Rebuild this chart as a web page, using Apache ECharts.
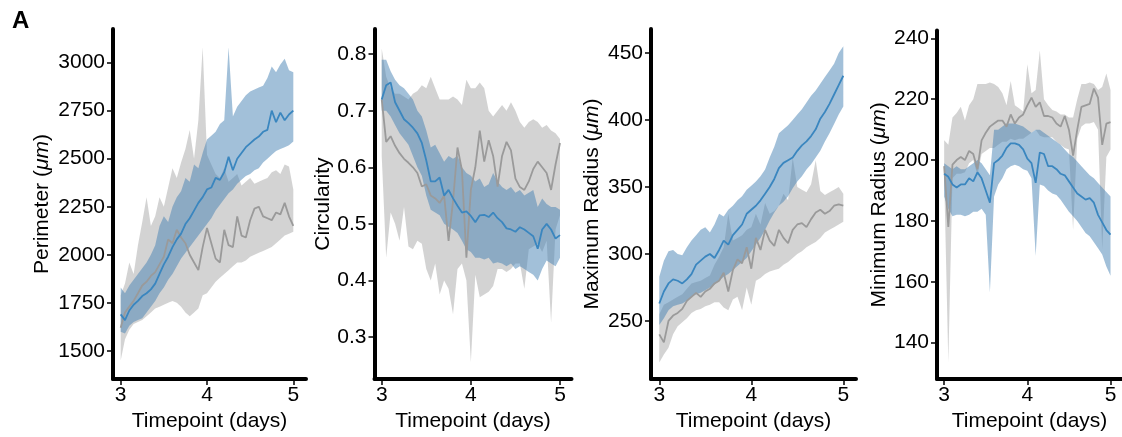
<!DOCTYPE html>
<html><head><meta charset="utf-8">
<script src="https://cdn.jsdelivr.net/npm/echarts@6/dist/echarts.min.js"></script>
<style>html,body{margin:0;padding:0;background:#fff}#c{width:1122px;height:437px}</style>
</head><body><div id="c"></div>
<script>
// Timepoints (days)
const T = [3.00,3.05,3.10,3.15,3.20,3.25,3.30,3.35,3.40,3.45,3.50,3.55,3.60,3.65,3.70,3.75,3.80,3.85,3.90,3.95,
           4.00,4.05,4.10,4.15,4.20,4.25,4.30,4.35,4.40,4.45,4.50,4.55,4.60,4.65,4.70,4.75,4.80,4.85,4.90,4.95,5.00];
const xTicks = [3, 4, 5];

// Perimeter (um)
const perimBlueMean = [1690,1660,1710,1740,1760,1785,1800,1820,1850,1900,1950,1990,2040,2080,2110,2160,2190,2230,2270,2300,
  2340,2350,2400,2390,2430,2510,2440,2500,2530,2560,2580,2600,2615,2640,2650,2750,2690,2740,2700,2730,2750];
const perimBlueLow = [1600,1590,1630,1650,1660,1670,1700,1730,1760,1800,1830,1870,1900,1940,1980,2010,2040,2070,2100,2130,
  2160,2190,2230,2260,2290,2320,2340,2370,2390,2410,2420,2440,2450,2480,2500,2520,2540,2550,2560,2570,2590];
const perimBlueHigh = [1830,1800,1840,1870,1900,1930,1960,2000,2050,2150,2200,2170,2250,2300,2330,2400,2380,2470,2450,2530,
  2600,2620,2640,2680,2700,3080,2720,2770,2800,2830,2850,2860,2870,2880,2920,2980,2950,2990,3020,2960,2950];
const perimGreyMean = [1620,1700,1730,1760,1800,1840,1860,1890,1910,1950,1990,2080,2060,2130,2090,2060,2000,1960,1920,2040,
  2140,2060,1980,1960,2130,2050,2040,2200,2100,2090,2180,2240,2250,2200,2190,2180,2220,2210,2270,2200,2150];
const perimGreyLow = [1450,1560,1610,1640,1650,1660,1680,1700,1720,1730,1740,1750,1760,1750,1730,1700,1680,1700,1720,1790,
  1800,1830,1860,1880,1900,1920,1940,1960,1960,1970,1990,2000,2010,2020,2030,2040,2060,2080,2100,2110,2120];
const perimGreyHigh = [1790,1850,1960,1900,2050,2170,2300,2150,2200,2300,2250,2350,2450,2400,2480,2550,2650,2500,2700,3080,
  2520,2470,2420,2400,2450,2380,2400,2420,2360,2380,2400,2370,2380,2390,2400,2430,2440,2420,2470,2460,2340];
const perimTicks = [1500,1750,2000,2250,2500,2750,3000];

// Circularity
const circBlueMean = [0.72,0.745,0.75,0.715,0.70,0.685,0.678,0.67,0.66,0.643,0.612,0.575,0.575,0.582,0.55,0.56,0.545,0.532,0.52,0.522,
  0.514,0.503,0.515,0.516,0.512,0.52,0.51,0.503,0.492,0.49,0.486,0.494,0.49,0.484,0.478,0.456,0.49,0.5,0.49,0.474,0.48];
const circBlueLow = [0.70,0.70,0.69,0.675,0.66,0.65,0.64,0.62,0.60,0.585,0.55,0.525,0.52,0.515,0.50,0.495,0.49,0.484,0.47,0.455,
  0.45,0.44,0.44,0.437,0.44,0.43,0.432,0.43,0.425,0.43,0.42,0.425,0.42,0.415,0.41,0.40,0.42,0.435,0.43,0.425,0.44];
const circBlueHigh = [0.79,0.79,0.77,0.755,0.745,0.74,0.73,0.72,0.70,0.69,0.665,0.635,0.64,0.625,0.61,0.62,0.615,0.62,0.60,0.59,
  0.585,0.575,0.58,0.565,0.57,0.59,0.575,0.565,0.56,0.565,0.555,0.56,0.55,0.555,0.56,0.53,0.545,0.535,0.53,0.53,0.525];
const circGreyMean = [0.72,0.645,0.655,0.638,0.625,0.615,0.608,0.60,0.59,0.566,0.57,0.55,0.545,0.537,0.55,0.47,0.54,0.635,0.595,0.44,
  0.56,0.60,0.665,0.61,0.648,0.62,0.566,0.62,0.645,0.63,0.58,0.565,0.56,0.575,0.597,0.61,0.60,0.59,0.56,0.605,0.643];
const circGreyLow = [0.62,0.44,0.52,0.50,0.47,0.53,0.46,0.455,0.47,0.465,0.42,0.40,0.43,0.375,0.40,0.385,0.34,0.42,0.43,0.40,
  0.255,0.41,0.37,0.375,0.38,0.39,0.42,0.42,0.415,0.42,0.43,0.43,0.385,0.455,0.46,0.465,0.45,0.47,0.325,0.49,0.515];
const circGreyHigh = [0.81,0.76,0.74,0.73,0.73,0.725,0.72,0.73,0.735,0.745,0.74,0.76,0.74,0.72,0.72,0.72,0.725,0.72,0.71,0.755,
  0.74,0.74,0.75,0.74,0.70,0.69,0.70,0.71,0.70,0.715,0.70,0.68,0.67,0.68,0.685,0.68,0.67,0.675,0.665,0.66,0.65];
const circTicks = [0.3,0.4,0.5,0.6,0.7,0.8];

// Maximum Radius (um)
const maxrBlueMean = [263,272,278,281,280,278,281,285,292,295,298,300,297,303,310,307,314,318,322,330,
  333,336,340,345,350,356,364,368,370,372,377,381,384,388,393,401,406,412,419,426,433];
const maxrBlueLow = [247,252,258,261,262,263,265,268,270,271,273,275,277,280,283,285,288,291,294,297,
  302,307,312,318,325,331,336,339,343,349,354,358,363,367,372,377,384,390,397,404,410];
const maxrBlueHigh = [283,295,302,303,300,299,305,310,314,318,320,316,322,330,328,333,336,340,343,348,
  351,354,358,363,372,380,390,393,396,400,404,408,413,418,422,427,432,437,442,450,455];
const maxrGreyMean = [240,234,250,254,256,259,265,268,271,268,272,274,278,280,286,272,288,296,293,305,
  289,312,303,318,310,306,318,312,308,318,322,323,320,326,331,333,330,332,336,337,336];
const maxrGreyLow = [219,225,230,240,246,249,252,256,258,259,261,262,264,264,260,258,266,268,258,275,
  262,280,282,285,287,288,289,292,294,297,300,302,305,307,309,312,316,318,320,322,324];
const maxrGreyHigh = [255,262,264,266,268,270,274,278,279,280,282,284,292,298,305,330,310,312,314,318,
  320,330,322,338,330,332,336,345,340,372,350,348,346,352,370,347,344,346,348,350,345];
const maxrTicks = [250,300,350,400,450];

// Minimum Radius (um)
const minrBlueMean = [195.5,194.5,192,191,192,192,194,193,196,194,190,186,199,200,201.5,204,205.5,205.5,205,203.5,
  200.5,199,192.5,202.5,202,198,198,197,195.5,195,193,191,189,188,187,187.5,186,182,179.5,177,175.5];
const minrBlueLow = [188,184,181.5,182,182,181.5,182,183,183,184,182,156.5,188,192,194,197,198,198.5,198,197,
  196.5,194,168.5,192,191.5,190,189,188.5,187,185,183,181.5,180,178,176,175,173,171,169,165,162];
const minrBlueHigh = [199,198,197,198,197,197,198,199,200,199,197,195,210,210,211,212,212,212,211.5,211,
  210,209,210,210,209,208,207,206,205,203.5,202,201,199.5,198,196.5,195,194,192.5,191,189.5,188];
const minrGreyMean = [198,178,198.5,200,201,200,203,202,197,206.5,209,211,212,213,213,211,215,212,214,215,
  218,220.5,217.5,219,214.5,214.5,214,212,211,214.5,210,201.5,210,217.5,218,218.5,223.5,220.5,205,212,212.5];
const minrGreyLow = [194.5,133.5,194,195.5,195.5,196,199,200,195,202,203,204,204,205,206,206,207,206.5,207,207,
  208,209,210,208,207.5,207.5,207.5,206,205,204,203.5,177,207,211,212,212,212.5,210,170.5,201,203.5];
const minrGreyHigh = [206.5,205,214,215.5,217.5,213,218,220,225,225,225,225.5,225,224,222,218,226,218,217,216,
  231.5,222,223,236,220,218,216.5,216,215,215,214,214,220,225,225,225.5,225,223,224,228.5,223];
const minrTicks = [140,160,180,200,220,240];

const FONT = 'Liberation Sans, Arial, Helvetica, sans-serif';
const BLUE_LINE = '#3a86bf', BLUE_BAND = 'rgba(70,130,180,0.5)';
const GREY_LINE = '#9a9a9a', GREY_BAND = 'rgba(150,150,150,0.42)';

const panels = [
  {title:'Perimeter ({i|μm})', grid:{left:113, top:29, width:193, height:351}, xr:[2.911,5.147], yr:[1353,3175], yt:perimTicks, gap:60, dec:0,
   b:[perimBlueMean, perimBlueLow, perimBlueHigh], g:[perimGreyMean, perimGreyLow, perimGreyHigh]},
  {title:'Circularity', grid:{left:374.5, top:29, width:197, height:351}, xr:[2.919,5.129], yr:[0.2254,0.8446], yt:circTicks, gap:38, dec:1,
   b:[circBlueMean, circBlueLow, circBlueHigh], g:[circGreyMean, circGreyLow, circGreyHigh]},
  {title:'Maximum Radius ({i|μm})', grid:{left:651, top:29, width:205, height:351}, xr:[2.91,5.138], yr:[206.6,467.9], yt:maxrTicks, gap:48, dec:0,
   b:[maxrBlueMean, maxrBlueLow, maxrBlueHigh], g:[maxrGreyMean, maxrGreyLow, maxrGreyHigh]},
  {title:'Minimum Radius ({i|μm})', grid:{left:937, top:30.5, width:189, height:349.5}, xr:[2.914,5.138], yr:[128,242.6], yt:minrTicks, gap:44, dec:0,
   b:[minrBlueMean, minrBlueLow, minrBlueHigh], g:[minrGreyMean, minrGreyLow, minrGreyHigh]}
];

const axisLine = {show:true, onZero:false, lineStyle:{color:'#000', width:4}};
const grids = [], xAxes = [], yAxes = [], series = [];
panels.forEach((p, i) => {
  grids.push(Object.assign({containLabel:false}, p.grid));
  xAxes.push({
    type:'value', gridIndex:i, min:p.xr[0], max:p.xr[1],
    axisLine: axisLine, splitLine:{show:false},
    axisTick:{show:true, customValues:xTicks, length:6, lineStyle:{color:'#000', width:1.5}},
    axisLabel:{customValues:xTicks, fontSize:21, fontFamily:FONT, color:'#000', margin:6},
    name:'Timepoint (days)', nameLocation:'middle', nameGap:28,
    nameTextStyle:{fontSize:21, fontFamily:FONT, color:'#000'}
  });
  yAxes.push({
    type:'value', gridIndex:i, min:p.yr[0], max:p.yr[1],
    axisLine: axisLine, splitLine:{show:false},
    axisTick:{show:true, customValues:p.yt, length:6, lineStyle:{color:'#000', width:1.5}},
    axisLabel:{customValues:p.yt, fontSize:21, fontFamily:FONT, color:'#000', margin:8,
      formatter: v => v.toFixed(p.dec)},
    name:p.title, nameLocation:'middle', nameGap:p.gap, nameRotate:90,
    nameTextStyle:{fontSize:21, fontFamily:FONT, color:'#000',
      rich:{i:{fontSize:21, fontFamily:FONT, fontStyle:'italic', color:'#000'}}}
  });
  // ribbon (lower..upper) drawn as a polygon through the axis scales
  const band = (low, high, color) => {
    series.push({
      type:'custom', xAxisIndex:i, yAxisIndex:i, silent:true, clip:true,
      data:[[T[0], low[0]]],
      renderItem:(params, api) => {
        const pts = [];
        for (let k = 0; k < T.length; k++) pts.push(api.coord([T[k], low[k]]));
        for (let k = T.length - 1; k >= 0; k--) pts.push(api.coord([T[k], high[k]]));
        return {type:'polygon', shape:{points:pts}, style:{fill:color, stroke:null}};
      }
    });
  };
  band(p.g[1], p.g[2], GREY_BAND);
  band(p.b[1], p.b[2], BLUE_BAND);
  series.push({type:'line', xAxisIndex:i, yAxisIndex:i, symbol:'none', silent:true,
    lineStyle:{color:GREY_LINE, width:1.8}, data:T.map((t,k)=>[t, p.g[0][k]])});
  series.push({type:'line', xAxisIndex:i, yAxisIndex:i, symbol:'none', silent:true,
    lineStyle:{color:BLUE_LINE, width:1.8}, data:T.map((t,k)=>[t, p.b[0][k]])});
});

const chart = echarts.init(document.getElementById('c'), null, {renderer:'canvas'});
chart.setOption({
  animation:false,
  backgroundColor:'#fff',
  grid:grids, xAxis:xAxes, yAxis:yAxes, series:series,
  graphic:[{type:'text', left:12, top:9, style:{text:'A', font:'bold 24px ' + FONT, fill:'#000'}}]
});
</script></body></html>
